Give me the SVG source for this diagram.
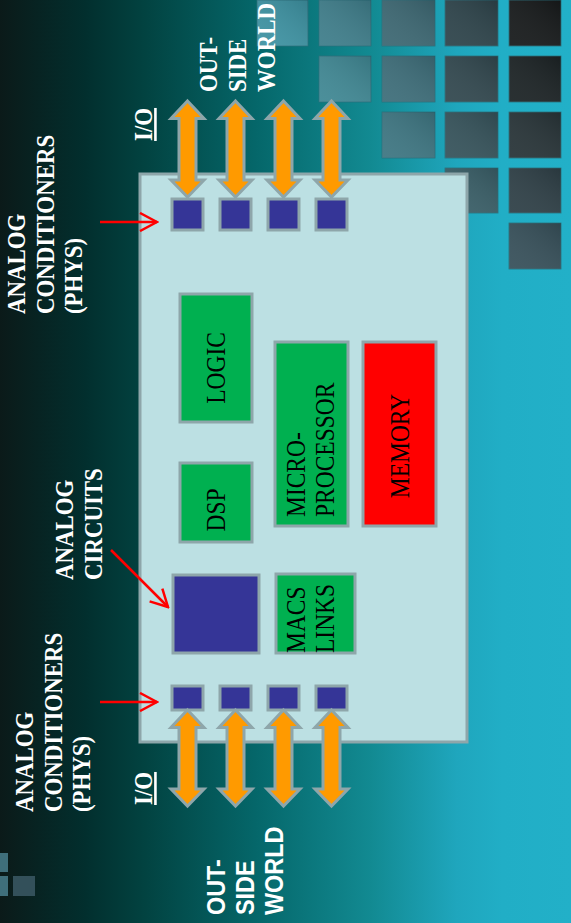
<svg xmlns="http://www.w3.org/2000/svg" width="571" height="923" viewBox="0 0 571 923">
<defs>
<linearGradient id="bg" x1="0" y1="0" x2="571" y2="0" gradientUnits="userSpaceOnUse">
<stop offset="0" stop-color="#0b1a19"/>
<stop offset="0.15" stop-color="#022f2e"/>
<stop offset="0.25" stop-color="#024240"/>
<stop offset="0.45" stop-color="#05676a"/>
<stop offset="0.65" stop-color="#128a92"/>
<stop offset="0.8" stop-color="#1fa6bd"/>
<stop offset="0.88" stop-color="#21aec6"/>
<stop offset="1" stop-color="#22b0c8"/>
</linearGradient>
<linearGradient id="sheen" x1="0" y1="1" x2="1" y2="0">
<stop offset="0" stop-color="#ffffff" stop-opacity="0.06"/>
<stop offset="1" stop-color="#000000" stop-opacity="0.14"/>
</linearGradient>
<marker id="chev" viewBox="0 0 20 20" refX="18" refY="10" markerWidth="20" markerHeight="20" markerUnits="userSpaceOnUse" orient="auto">
<path d="M1,1 L18,10 L1,19" fill="none" stroke="#ff0000" stroke-width="2.5"/>
</marker>
<path id="dbl" d="M0,0 L16.5,17.5 L8.5,17.5 L8.5,79 L16.5,79 L0,96 L-16.5,79 L-8.5,79 L-8.5,17.5 L-16.5,17.5 Z"/>
</defs>
<style>
.sq{stroke:#2a6f7a;stroke-width:0.8}
.chip{fill:#bce0e3;stroke:#8ea6aa;stroke-width:3}
.blk{stroke:#8ea6aa;stroke-width:3}
.blue{fill:#353597}
.green{fill:#00b050}
.red{fill:#ff0000}
.io{fill:#ff9a00;stroke:#8ea6aa;stroke-width:3;stroke-linejoin:miter}
.ra{fill:none;stroke:#ff0000;stroke-width:2.5}
.wt{font-family:"Liberation Serif","Times New Roman",serif;font-weight:bold;font-size:26px;fill:#ffffff}
.ws{font-family:"Liberation Sans",Arial,sans-serif;font-weight:bold;font-size:26px;fill:#ffffff}
.bt{font-family:"Liberation Serif","Times New Roman",serif;font-size:27px;fill:#000000}
</style>
<rect x="0" y="0" width="571" height="923" fill="url(#bg)"/>
<g id="decor">
<rect class="sq" x="257" y="0" width="51" height="46" fill="#3e93a3"/>
<rect class="sq" x="319" y="0" width="52" height="46" fill="#3f7e8b"/>
<rect class="sq" x="382" y="0" width="53" height="46" fill="#3d6873"/>
<rect class="sq" x="445" y="0" width="53" height="46" fill="#2e444b"/>
<rect class="sq" x="509" y="0" width="52" height="46" fill="#171a1b"/>
<rect class="sq" x="319" y="56" width="52" height="46" fill="#408894"/>
<rect class="sq" x="382" y="56" width="53" height="46" fill="#3e6e7a"/>
<rect class="sq" x="445" y="56" width="53" height="46" fill="#32484f"/>
<rect class="sq" x="509" y="56" width="52" height="46" fill="#1c2325"/>
<rect class="sq" x="382" y="112" width="53" height="46" fill="#3e7682"/>
<rect class="sq" x="445" y="112" width="53" height="46" fill="#36535b"/>
<rect class="sq" x="509" y="112" width="52" height="46" fill="#283438"/>
<rect class="sq" x="445" y="168" width="53" height="45" fill="#3a5f68"/>
<rect class="sq" x="509" y="168" width="52" height="45" fill="#2f4047"/>
<rect class="sq" x="509" y="223" width="52" height="46" fill="#37505a"/>
<g fill="url(#sheen)">
<rect x="257" y="0" width="51" height="46"/><rect x="319" y="0" width="52" height="46"/><rect x="382" y="0" width="53" height="46"/><rect x="445" y="0" width="53" height="46"/><rect x="509" y="0" width="52" height="46"/>
<rect x="319" y="56" width="52" height="46"/><rect x="382" y="56" width="53" height="46"/><rect x="445" y="56" width="53" height="46"/><rect x="509" y="56" width="52" height="46"/>
<rect x="382" y="112" width="53" height="46"/><rect x="445" y="112" width="53" height="46"/><rect x="509" y="112" width="52" height="46"/>
<rect x="445" y="168" width="53" height="45"/><rect x="509" y="168" width="52" height="45"/>
<rect x="509" y="223" width="52" height="46"/>
</g>
<rect x="0" y="853" width="8" height="19" fill="#3f6f7b"/>
<rect x="0" y="876" width="8" height="20" fill="#3f6f7b"/>
<rect x="13" y="876" width="22" height="20" fill="#33505a"/>
</g>
<g id="chip"><rect class="chip" x="140" y="174" width="327" height="568"/></g>
<g id="io-top-1"><rect class="blk blue" x="172" y="199" width="31" height="31"/></g>
<g id="io-top-2"><rect class="blk blue" x="220" y="199" width="31" height="31"/></g>
<g id="io-top-3"><rect class="blk blue" x="268" y="199" width="31" height="31"/></g>
<g id="io-top-4"><rect class="blk blue" x="316" y="199" width="31" height="31"/></g>
<g id="io-bot-1"><rect class="blk blue" x="172" y="686" width="31" height="24"/></g>
<g id="io-bot-2"><rect class="blk blue" x="220" y="686" width="31" height="24"/></g>
<g id="io-bot-3"><rect class="blk blue" x="268" y="686" width="31" height="24"/></g>
<g id="io-bot-4"><rect class="blk blue" x="316" y="686" width="31" height="24"/></g>
<g id="analog-block"><rect class="blk blue" x="173" y="575" width="86" height="78"/></g>
<g id="logic"><rect class="blk green" x="180" y="294" width="72" height="128"/>
<text class="bt" transform="translate(225,368) rotate(-90) scale(0.87,1)" text-anchor="middle">LOGIC</text></g>
<g id="dsp"><rect class="blk green" x="180" y="463" width="72" height="79"/>
<text class="bt" transform="translate(225,510) rotate(-90) scale(0.87,1)" text-anchor="middle">DSP</text></g>
<g id="microprocessor"><rect class="blk green" x="275" y="342" width="73" height="184"/>
<text class="bt" transform="translate(305,517) rotate(-90) scale(0.87,1)">MICRO-</text>
<text class="bt" transform="translate(334,517) rotate(-90) scale(0.87,1)">PROCESSOR</text></g>
<g id="memory"><rect class="blk red" x="363" y="342" width="73" height="184"/>
<text class="bt" transform="translate(409,446) rotate(-90) scale(0.87,1)" text-anchor="middle">MEMORY</text></g>
<g id="macs-links"><rect class="blk green" x="276" y="574" width="79" height="79"/>
<text class="bt" transform="translate(305,653) rotate(-90) scale(0.87,1)">MACS</text>
<text class="bt" transform="translate(334,653) rotate(-90) scale(0.87,1)">LINKS</text></g>
<g id="label-analog-cond-top">
<text class="wt" transform="translate(25,314) rotate(-90) scale(0.88,1)">ANALOG</text>
<text class="wt" transform="translate(54,314) rotate(-90) scale(0.88,1)">CONDITIONERS</text>
<text class="wt" transform="translate(82,314) rotate(-90) scale(0.88,1)">(PHYS)</text></g>
<g id="label-analog-cond-bot">
<text class="wt" transform="translate(33,812) rotate(-90) scale(0.88,1)">ANALOG</text>
<text class="wt" transform="translate(62,812) rotate(-90) scale(0.88,1)">CONDITIONERS</text>
<text class="wt" transform="translate(90,812) rotate(-90) scale(0.88,1)">(PHYS)</text></g>
<g id="label-analog-circuits">
<text class="wt" transform="translate(73,580) rotate(-90) scale(0.88,1)">ANALOG</text>
<text class="wt" transform="translate(102,580) rotate(-90) scale(0.88,1)">CIRCUITS</text></g>
<g id="label-io-top"><text class="wt" transform="translate(152,141) rotate(-90) scale(0.88,1)" text-decoration="underline">I/O</text></g>
<g id="label-io-bot"><text class="wt" transform="translate(152,805) rotate(-90) scale(0.88,1)" text-decoration="underline">I/O</text></g>
<g id="label-outside-top">
<text class="wt" transform="translate(217,92) rotate(-90) scale(0.88,1)">OUT-</text>
<text class="wt" transform="translate(246,92) rotate(-90) scale(0.88,1)">SIDE</text>
<text class="wt" transform="translate(275,92) rotate(-90) scale(0.88,1)">WORLD</text></g>
<g id="label-outside-bot">
<text class="ws" transform="translate(225,915) rotate(-90) scale(0.9,1)">OUT-</text>
<text class="ws" transform="translate(254,915) rotate(-90) scale(0.9,1)">SIDE</text>
<text class="ws" transform="translate(283,915) rotate(-90) scale(0.9,1)">WORLD</text></g>
<g id="connectors">
<use href="#dbl" class="io" x="187.5" y="101"/>
<use href="#dbl" class="io" x="235.5" y="101"/>
<use href="#dbl" class="io" x="283.5" y="101"/>
<use href="#dbl" class="io" x="331.5" y="101"/>
<use href="#dbl" class="io" x="187.5" y="710"/>
<use href="#dbl" class="io" x="235.5" y="710"/>
<use href="#dbl" class="io" x="283.5" y="710"/>
<use href="#dbl" class="io" x="331.5" y="710"/>
<line class="ra" x1="100" y1="222" x2="157" y2="222" marker-end="url(#chev)"/>
<line class="ra" x1="100" y1="702" x2="157" y2="702" marker-end="url(#chev)"/>
<line class="ra" x1="111" y1="550" x2="168" y2="607" marker-end="url(#chev)"/>
</g>
</svg>
